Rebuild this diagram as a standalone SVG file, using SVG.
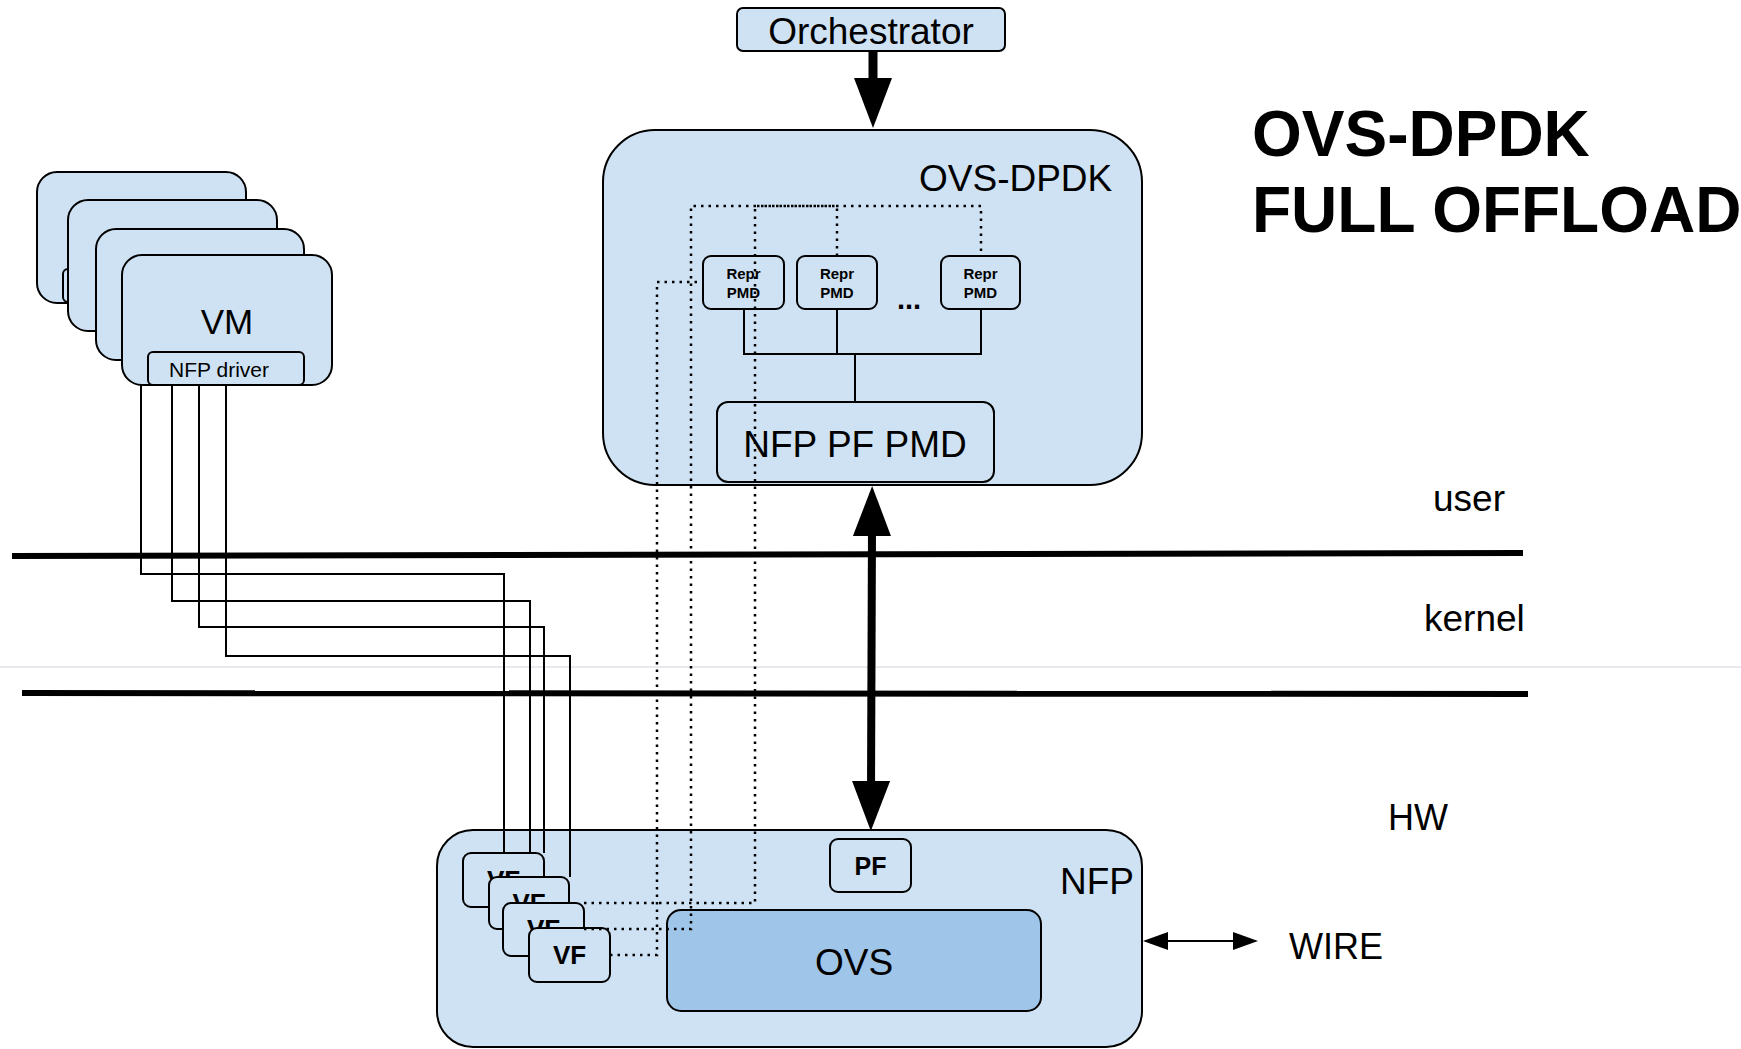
<svg xmlns="http://www.w3.org/2000/svg" width="1741" height="1049" viewBox="0 0 1741 1049">
<style>
.box{fill:#cfe2f3;stroke:#000;stroke-width:2}
.ovs{fill:#9fc5e8;stroke:#000;stroke-width:2}
text{font-family:"Liberation Sans",Arial,Helvetica,sans-serif;fill:#000}
.b{font-weight:bold}
.m{text-anchor:middle}
.wire{fill:none;stroke:#000;stroke-width:2}
.dot{fill:none;stroke:#000;stroke-width:2.5;stroke-dasharray:2.5 5}
.layer{fill:none;stroke:#000;stroke-width:6}
.big{fill:none;stroke:#000}
</style>
<defs>
<marker id="head" viewBox="0 0 50 38" markerWidth="50" markerHeight="38" refX="10" refY="19" markerUnits="userSpaceOnUse" orient="auto-start-reverse"><path d="M0,0 L50,19 L0,38 z" fill="#000"/></marker>
<marker id="head-s" viewBox="0 0 25 18" markerWidth="25" markerHeight="18" refX="5" refY="9" markerUnits="userSpaceOnUse" orient="auto-start-reverse"><path d="M0,0 L25,9 L0,18 z" fill="#000"/></marker>
</defs>
<rect width="1741" height="1049" fill="#fff"/>

<g id="layers">
<path d="M0,667 H1741" stroke="#d6d1de" stroke-width="1"/>
<path class="layer" d="M12,556 L1523,553"/>
<path class="layer" d="M22,693 L1528,694"/>
<text x="1433" y="511" font-size="37">user</text>
<text x="1424" y="631" font-size="37">kernel</text>
<text x="1388" y="830" font-size="36">HW</text>
</g>

<g id="title">
<text class="b" x="1252" y="156" font-size="64">OVS-DPDK</text>
<text class="b" x="1252" y="232" font-size="64">FULL OFFLOAD</text>
</g>

<g id="orchestrator">
<rect class="box" x="737" y="8" width="268" height="43" rx="6"/>
<text class="m" x="871" y="44" font-size="37">Orchestrator</text>
</g>

<g id="ovs-dpdk">
<rect class="box" x="603" y="130" width="539" height="355" rx="52"/>
<text x="919" y="191" font-size="37">OVS-DPDK</text>
</g>

<g id="repr1">
<rect class="box" x="703" y="256" width="81" height="53" rx="8"/>
<text class="b m" x="743.5" y="279" font-size="15">Repr</text>
<text class="b m" x="743.5" y="298" font-size="15">PMD</text>
</g>
<g id="repr2">
<rect class="box" x="797" y="256" width="80" height="53" rx="8"/>
<text class="b m" x="837" y="279" font-size="15">Repr</text>
<text class="b m" x="837" y="298" font-size="15">PMD</text>
</g>
<g id="repr-more">
<text class="b" x="897" y="309" font-size="29">...</text>
</g>
<g id="repr3">
<rect class="box" x="941" y="256" width="79" height="53" rx="8"/>
<text class="b m" x="980.5" y="279" font-size="15">Repr</text>
<text class="b m" x="980.5" y="298" font-size="15">PMD</text>
</g>

<g id="nfp-pf-pmd">
<rect class="box" x="717" y="402" width="277" height="80" rx="11"/>
<text class="m" x="855" y="457" font-size="37">NFP PF PMD</text>
</g>

<g id="vm1">
<rect class="box" x="37" y="172" width="209" height="131" rx="20"/>
<rect class="box" x="63" y="269" width="156" height="33" rx="5"/>
</g>
<g id="vm2">
<rect class="box" x="68" y="200" width="209" height="131" rx="20"/>
</g>
<g id="vm3">
<rect class="box" x="96" y="229" width="208" height="131" rx="20"/>
</g>
<g id="vm4">
<rect class="box" x="122" y="255" width="210" height="130" rx="20"/>
<text class="m" x="227" y="334" font-size="35">VM</text>
<rect class="box" x="148" y="352" width="156" height="33" rx="5"/>
<text x="169" y="377" font-size="21">NFP driver</text>
</g>

<g id="nfp">
<rect class="box" x="437" y="830" width="705" height="217" rx="36"/>
<text x="1060" y="894" font-size="37">NFP</text>
</g>
<g id="pf">
<rect class="box" x="830" y="839" width="81" height="53" rx="8"/>
<text class="b m" x="870.5" y="875" font-size="25">PF</text>
</g>
<g id="ovs">
<rect class="ovs" x="667" y="910" width="374" height="101" rx="14"/>
<text class="m" x="854" y="975" font-size="37">OVS</text>
</g>
<g id="vf1">
<rect class="box" x="463" y="853" width="81" height="54" rx="8"/>
<text class="b m" x="503.5" y="889" font-size="26">VF</text>
</g>
<g id="vf2">
<rect class="box" x="489" y="877" width="80" height="52" rx="8"/>
<text class="b m" x="529" y="912" font-size="26">VF</text>
</g>
<g id="vf3">
<rect class="box" x="503" y="903" width="81" height="53" rx="8"/>
<text class="b m" x="543.5" y="938" font-size="26">VF</text>
</g>
<g id="vf4">
<rect class="box" x="529" y="928" width="81" height="54" rx="8"/>
<text class="b m" x="569.5" y="964" font-size="26">VF</text>
</g>

<g id="wire-label">
<text x="1289" y="959" font-size="36">WIRE</text>
</g>

<g id="connectors">
<path class="wire" d="M141,385 V574 H504 V853"/>
<path class="wire" d="M172,385 V601 H530 V853"/>
<path class="wire" d="M199,385 V627 H544 V853"/>
<path class="wire" d="M226,385 V656 H570 V877"/>
<path class="wire" d="M744,309 V354 H981 V309 M837,309 V354 M855,354 V402"/>
<path class="dot" d="M610,955 H657 V282 H703"/>
<path class="dot" d="M584,929 H691 V206 H981 V256"/>
<path class="dot" d="M584,903 H755 V206 H837 V256"/>
<path class="big" stroke-width="9" d="M873,51 V88" marker-end="url(#head)"/>
<path class="big" stroke-width="8" d="M872,526 L871,791" marker-start="url(#head)" marker-end="url(#head)"/>
<path class="wire" d="M1163,941 H1238" marker-start="url(#head-s)" marker-end="url(#head-s)"/>
</g>
</svg>
